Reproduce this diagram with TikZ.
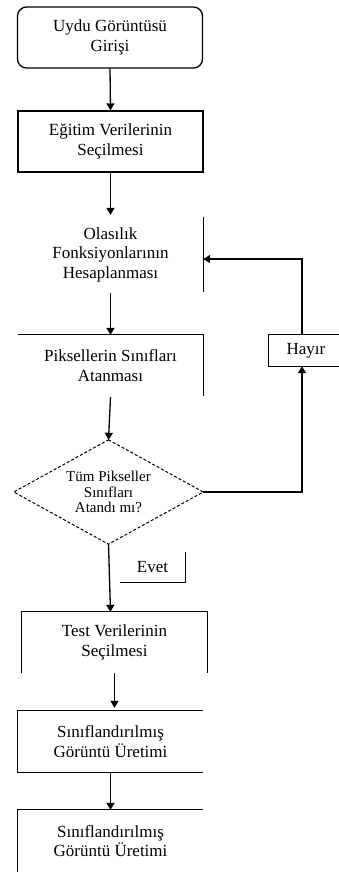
\documentclass[tikz,border=0pt]{standalone}
\usepackage{fontspec}
\setmainfont{Liberation Serif}
\usetikzlibrary{arrows.meta}
\begin{document}
\begin{tikzpicture}[x=1pt,y=-1pt,
  box/.style={draw=none, minimum width=185pt, minimum height=61pt, inner sep=0pt,
    align=center, font=\fontsize{17}{19.5}\selectfont},
  edge/.style={line width=1.3pt},
  arr/.style={line width=1.3pt, -{Triangle[width=8pt,length=7pt]}},
]
\useasboundingbox (0,0) rectangle (339,879);

% process steps
\node[box, draw, line width=1.3pt, rounded corners=9pt] (n1) at (110,37.5) {Uydu Görüntüsü\\Girişi};
\node[box, draw, line width=1.3pt] (n2) at (110.5,141.5) {Eğitim Verilerinin\\Seçilmesi};
\node[box, minimum height=75pt] (n3) at (110.5,254.5) {Olasılık\\Fonksiyonlarının\\Hesaplanması};
\node[box] (n4) at (110.5,365.5) {Piksellerin Sınıfları\\Atanması};
\node[box, minimum width=189pt, minimum height=104pt,
      font=\fontsize{15}{15.5}\selectfont] (dia) at (108.5,492) {Tüm Pikseller\\Sınıfları\\Atandı mı?};
\node[box, minimum width=65pt, minimum height=30pt] (evet) at (152.5,567) {Evet};
\node[box, minimum width=74pt, minimum height=31pt] (hayir) at (306,350.5) {Hayır};
\coordinate (hx) at (302,0);
\node[box] (n5) at (114.5,642.5) {Test Verilerinin\\Seçilmesi};
\node[box] (n6) at (110.5,741.5) {Sınıflandırılmış\\Görüntü Üretimi};
\node[box, minimum height=62pt] (n7) at (110.5,841) {Sınıflandırılmış\\Görüntü Üretimi};

% visible box edges
\draw[edge] (n3.north east) -- (n3.south east);
\draw[edge] (n4.north west) -- (n4.north east) -- (n4.south east);
\draw[line width=1pt, dash pattern=on 3pt off 2pt] (dia.north) -- (dia.east) -- (dia.south) -- (dia.west) -- cycle;
\draw[edge] (evet.north east) -- (evet.south east) -- (evet.south west);
\draw[edge] (hayir.north east) -- (hayir.north west) -- (hayir.south west) -- (hayir.south east);
\draw[edge] (n5.south west) -- (n5.north west) -- (n5.north east) -- (n5.south east);
\draw[edge] (n6.north east) -- (n6.north west) -- (n6.south west) -- (n6.south east);
\draw[edge] (n7.north east) -- (n7.north west) -- (n7.south west);

% main flow
\draw[arr] (n1.south) -- (n2.north);
\draw[arr] (n2.south) -- ([yshift=2pt]n3.north);
\draw[arr] ([yshift=-1pt]n3.south) -- (n4.north);
\draw[arr] ([yshift=-1pt]n4.south) -- (dia.north);
\draw[arr] (dia.south) -- ([xshift=-4pt]n5.north);
\draw[arr] (n5.south) -- ([xshift=4pt,yshift=3pt]n6.north);
\draw[arr] (n6.south) -- (n7.north);

% loop back
\draw[arr] (dia.east) -| (hayir.south -| hx);
\draw[arr] (hayir.north -| hx) |- ([yshift=-4.5pt]n3.east);
\end{tikzpicture}
\end{document}
